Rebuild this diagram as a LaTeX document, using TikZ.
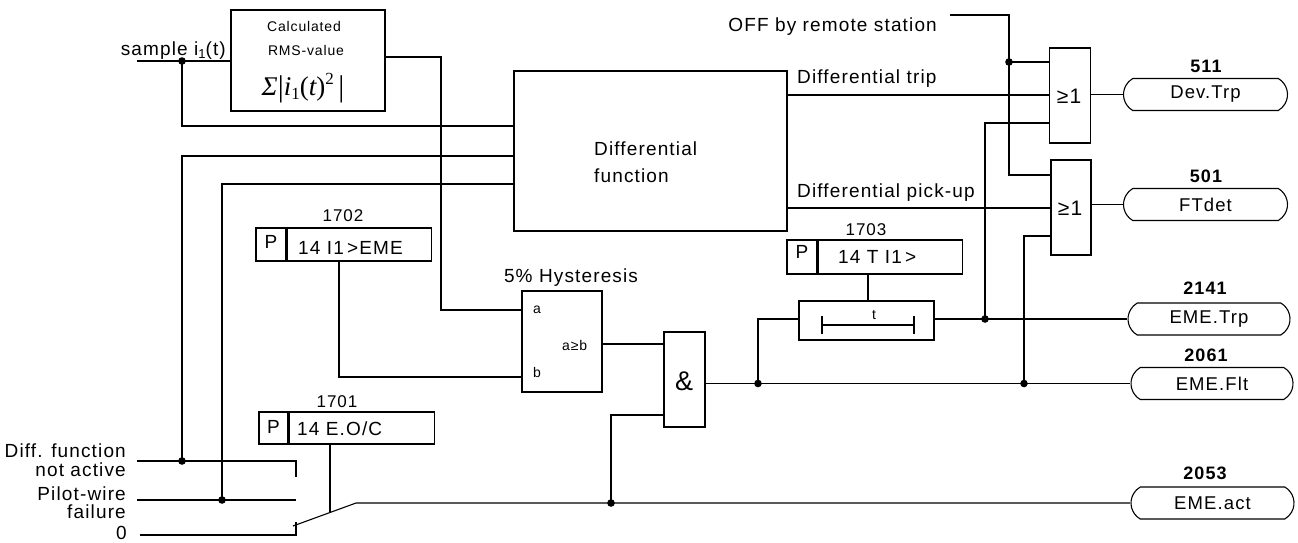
\documentclass[tikz,border=0pt]{standalone}
\usepackage{fontspec}
\setmainfont[LetterSpace=6]{Liberation Sans}
\newfontfamily\serf{Liberation Serif}
\usetikzlibrary{shapes.misc}
\tikzset{
 wire/.style={line width=1.1pt},
 blk/.style={draw, line width=1.1pt, inner sep=0pt, rectangle},
 term/.style={draw, line width=1.1pt, rounded rectangle, rounded rectangle arc length=120, inner sep=0pt, minimum height=32pt, font=\fontsize{18.5}{20}\selectfont},
 lab/.style={inner sep=0pt, font=\fontsize{19}{21}\selectfont},
 plab/.style={inner sep=0pt, font=\fontsize{17}{20}\selectfont},
 small/.style={inner sep=0pt, font=\fontsize{14}{16}\selectfont},
 num/.style={inner sep=0pt, font=\fontsize{18}{20}\selectfont\bfseries},
}
\begin{document}
\begin{tikzpicture}[x=1pt,y=-1pt]
\useasboundingbox (0,0) rectangle (1298,542);

% ---- blocks
\node[blk, minimum width=154pt, minimum height=101pt] (rms) at (308,60.5) {};
\node[small, anchor=base] (rmsa) at (304,31) {Calculated};
\node[small, anchor=base] (rmsb) at (306,55) {RMS-value};
\node[inner sep=0pt] (frm) at (303,88) {\serf\fontsize{27}{30}\selectfont\itshape Σ\upshape\raisebox{-1pt}{\fontsize{30}{30}\selectfont|}\itshape i\raisebox{-4pt}{\fontsize{17}{17}\selectfont\upshape 1}\upshape(\itshape t\upshape)\raisebox{11pt}{\fontsize{17}{17}\selectfont 2}\,\raisebox{-1pt}{\fontsize{30}{30}\selectfont|}};

\node[blk, line width=2.4pt, minimum width=273pt, minimum height=160pt] (diff) at (650.5,151) {};
\node[lab, anchor=base west] (dfa) at (594,155) {Differential};
\node[lab, anchor=base west] (dfb) at (594,182) {function};

\node[blk, minimum width=41pt, minimum height=95pt] (or1) at (1070,95.5) {};
\node[inner sep=0pt, font=\fontsize{21}{22}\selectfont] (or1t) at (1069,96) {≥1};
\node[blk, minimum width=40pt, minimum height=95pt] (or2) at (1071,207.5) {};
\node[inner sep=0pt, font=\fontsize{21}{22}\selectfont] (or2t) at (1070,208) {≥1};

\node[blk, minimum width=80pt, minimum height=101pt] (hyst) at (562,341.5) {};
\node[lab, anchor=base] (hystl) at (571,282) {5\% Hysteresis};
\node[small, anchor=base west] (ha) at (533,313) {a};
\node[small, anchor=base west] (hb) at (533,377) {b};
\node[small, anchor=base west] (hab) at (562,350) {a≥b};

\node[blk, minimum width=41pt, minimum height=95pt] (andg) at (684.5,379.5) {};
\node[inner sep=0pt, font=\fontsize{27}{30}\selectfont] (andt) at (684,381) {\&};

\node[blk, minimum width=135pt, minimum height=39pt] (timer) at (866.5,320.5) {};
\draw[wire] (822,325) -- (914,325);
\draw[wire] (822,316) -- (822,334);
\draw[wire] (914,316) -- (914,334);
\node[small, anchor=base] (tt) at (874,319) {t};

% ---- parameter boxes
\node[blk, minimum width=30pt, minimum height=33pt] (p2a) at (271,244.5) {};
\node[blk, minimum width=144pt, minimum height=33pt, anchor=west] (p2b) at (p2a.east) {};
\node[lab, anchor=base] (p2p) at (271,248) {P};
\node[lab, anchor=base west] (p2t) at (298,254) {14 I1\,>EME};
\node[plab, anchor=base] (p2n) at (343,221) {1702};

\node[blk, minimum width=30pt, minimum height=34pt] (p3a) at (802,257) {};
\node[blk, minimum width=144pt, minimum height=34pt, anchor=west] (p3b) at (p3a.east) {};
\node[lab, anchor=base] (p3p) at (802,258) {P};
\node[lab, anchor=base west] (p3t) at (838,263) {14 T I1\,>};
\node[plab, anchor=base] (p3n) at (866,235) {1703};

\node[blk, minimum width=29pt, minimum height=32pt] (p1a) at (273.5,428) {};
\node[blk, minimum width=145pt, minimum height=32pt, anchor=west] (p1b) at (p1a.east) {};
\node[lab, anchor=base] (p1p) at (273.5,433) {P};
\node[lab, anchor=base west] (p1t) at (297,435) {14 E.O/C};
\node[plab, anchor=base] (p1n) at (337,407) {1701};

% ---- terminals
\node[term, minimum width=164pt] (t511) at (1205.5,94.5) {Dev.Trp};
\node[num, anchor=base] (n511) at (1206,72) {511};
\node[term, minimum width=164pt] (t501) at (1205.5,204.5) {FTdet};
\node[num, anchor=base] (n501) at (1206,182) {501};
\node[term, minimum width=162pt] (t2141) at (1209,319) {EME.Trp};
\node[num, anchor=base] (n2141) at (1205,294) {2141};
\node[term, minimum width=162pt] (t2061) at (1212,383.5) {EME.Flt};
\node[num, anchor=base] (n2061) at (1206,361) {2061};
\node[term, minimum width=163pt] (t2053) at (1212.5,503) {EME.act};
\node[num, anchor=base] (n2053) at (1205,479) {2053};

% ---- text labels
\node[lab, anchor=base east] (smp) at (226,55) {sample i\raisebox{-3pt}{\fontsize{13}{13}\selectfont 1}(t)};
\node[lab, anchor=base east] (offt) at (937,31) {OFF by remote station};
\node[lab, anchor=base west] (dtrip) at (797,83) {Differential trip};
\node[lab, anchor=base west] (dpick) at (797,197) {Differential pick-up};
\node[lab, anchor=base east] (l1) at (126,457) {Diff. function};
\node[lab, anchor=base east] (l2) at (126,476) {not active};
\node[lab, anchor=base east] (l3) at (126,500) {Pilot-wire};
\node[lab, anchor=base east] (l4) at (126,518) {failure};
\node[lab, anchor=base east] (l5) at (127,539.5) {0};

% ---- junctions and free ends
\coordinate (j1) at (182,61);
\coordinate (j2) at (182,461);
\coordinate (j3) at (222,500);
\coordinate (j4) at (1009,62);
\coordinate (j5) at (985,319);
\coordinate (j6) at (1024,383.5);
\coordinate (j7) at (758,383.5);
\coordinate (j8) at (611,503);
\coordinate (insample) at (137,61);
\coordinate (off) at (950,15);
\coordinate (in1) at (137,461);
\coordinate (in2) at (137,500);
\coordinate (in3) at (140,535);
\coordinate (c1) at (296,477);
\coordinate (c2) at (296,500);
\coordinate (c3) at (296,522);
\coordinate (lev0) at (293,526);
\coordinate (lev1) at (356,503);
\coordinate (levm) at (330,512.5);

% ---- wires
\draw[wire] (insample) -- (rms.west |- insample);
\draw[wire] (j1) |- (diff.west |- 0,126);
\draw[wire] (rms.east |- 0,57) -| (441,310) -- (hyst.west |- 0,310);
\draw[wire] (j2) |- (diff.west |- 0,156);
\draw[wire] (j3) |- (diff.west |- 0,184);
\draw[wire] (diff.east |- 0,95) -- (or1.west |- 0,95);
\draw[wire] (diff.east |- 0,208) -- (or2.west |- 0,208);
\draw[wire] (off) -| (1009,175) -- (or2.west |- 0,175);
\draw[wire] (j4) -- (or1.west |- j4);
\draw[wire] (or1.east |- t511.west) -- (t511.west);
\draw[wire] (or2.east |- t501.west) -- (t501.west);
\draw[wire] (j5) |- (or1.west |- 0,123);
\draw[wire] (j6) |- (or2.west |- 0,236);
\draw[wire] (timer.east |- t2141.west) -- (t2141.west);
\draw[wire] (andg.east |- t2061.west) -- (t2061.west);
\draw[wire] (j7) |- (timer.west |- t2141.west);
\draw[wire] (hyst.east |- 0,344) -- (andg.west |- 0,344);
\draw[wire] (j8) |- (andg.west |- 0,415);
\draw[wire] (p2b.south -| 339,0) |- (hyst.west |- 0,377);
\draw[wire] (p3b.south -| 868,0) -- (timer.north -| 868,0);
\draw[wire] (p1b.south -| levm) -- (levm);
\draw[wire] (in1) -- (in1 -| c1) -- (c1);
\draw[wire] (in2) -- (c2);
\draw[wire] (in3) -- (in3 -| c3) -- (c3);
\draw[wire] (lev0) -- (lev1) -- (t2053.west);

% ---- dots
\foreach \j in {j1,j2,j3,j4,j5,j6,j7,j8} \fill (\j) circle (3.8pt);
\end{tikzpicture}
\end{document}
